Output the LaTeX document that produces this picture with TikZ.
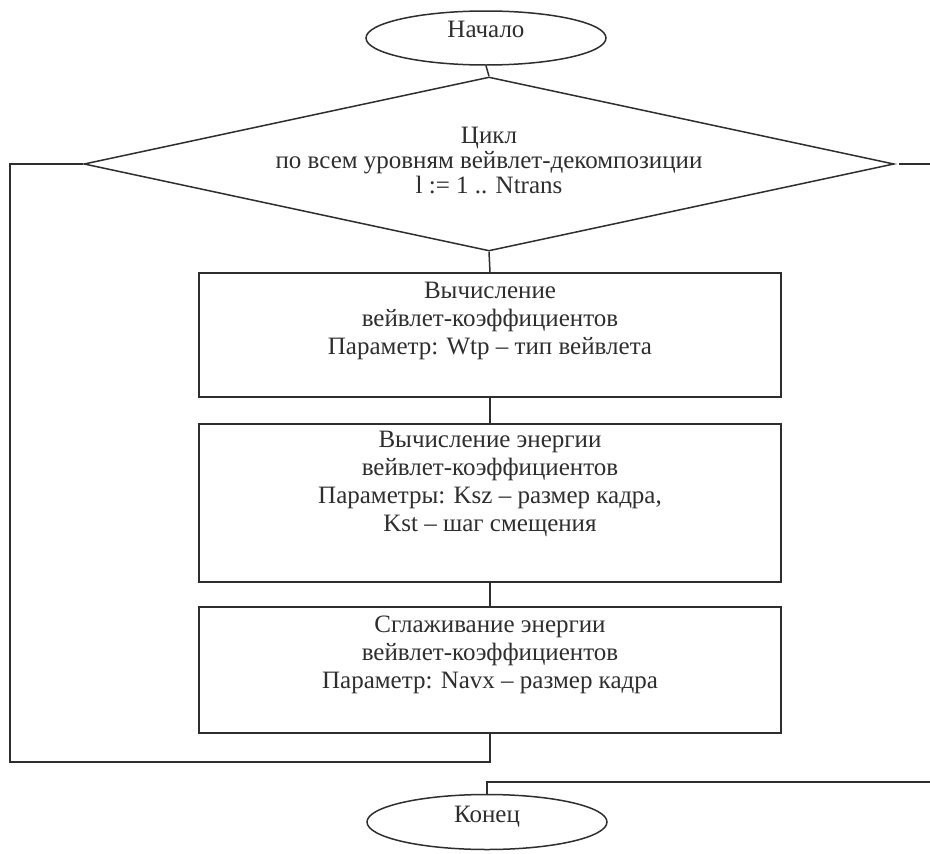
\documentclass[tikz,border=0pt]{standalone}
\usepackage{fontspec}
\setmainfont{Liberation Serif}
\usetikzlibrary{shapes.geometric}
\definecolor{ink}{HTML}{2E2E2E}
\begin{document}
\begin{tikzpicture}[x=1pt,y=-1pt,
  every node/.style={font=\fontsize{25}{28}\selectfont, text=ink},
  ln/.style={draw=ink, line width=1.5pt},
  term/.style={ellipse, draw=ink, line width=1.5pt, minimum width=240pt, minimum height=54pt, inner sep=0pt},
  dec/.style={diamond, aspect=4.6, draw=ink, line width=1.5pt, minimum width=810pt, minimum height=174pt, inner sep=0pt},
  proc/.style={rectangle, draw=ink, line width=1.5pt, minimum width=582pt, inner sep=0pt},
  lbl/.style={align=center, inner sep=0pt}]
\useasboundingbox (0,0) rectangle (930,854);

\node[term] (start) at (486,38) {};
\node[lbl] (startT) at (486,29) {Начало};

\node[dec] (cyc) at (489,164) {};
\node[lbl, font=\fontsize{25}{25}\selectfont] (cycT) at (489,160) {Цикл\\по всем уровням вейвлет-декомпозиции\\l := 1 .. Ntrans};

\node[proc, minimum height=124pt] (b1) at (490,335) {};
\node[lbl] (b1t) at (490,321) {Вычисление\\вейвлет-коэффициентов\\Параметр: Wtp -- тип вейвлета};

\node[proc, minimum height=158pt] (b2) at (490,503) {};
\node[lbl] (b2t) at (490,484) {Вычисление энергии\\вейвлет-коэффициентов\\Параметры: Ksz -- размер кадра,\\Kst -- шаг смещения};

\node[proc, minimum height=126pt] (b3) at (490,670) {};
\node[lbl] (b3t) at (490,655) {Сглаживание энергии\\вейвлет-коэффициентов\\Параметр: Navx -- размер кадра};

\node[term, minimum height=55pt] (end) at (487,822) {};
\node[lbl] (endT) at (487,817) {Конец};

\coordinate (loopL) at (10,762);
\coordinate (exitR) at (930,164);
\coordinate (retR) at (930,782);

\draw[ln] (start.south) -- (cyc.north);
\draw[ln] (cyc.south) -- (b1.north);
\draw[ln] (b1.south) -- (b2.north);
\draw[ln] (b2.south) -- (b3.north);
\draw[ln] (b3.south) |- (loopL) |- (cyc.west);
\draw[ln] ([xshift=4pt]cyc.east) -- (exitR);
\draw[ln] (retR) -| (end.north);
\end{tikzpicture}
\end{document}
